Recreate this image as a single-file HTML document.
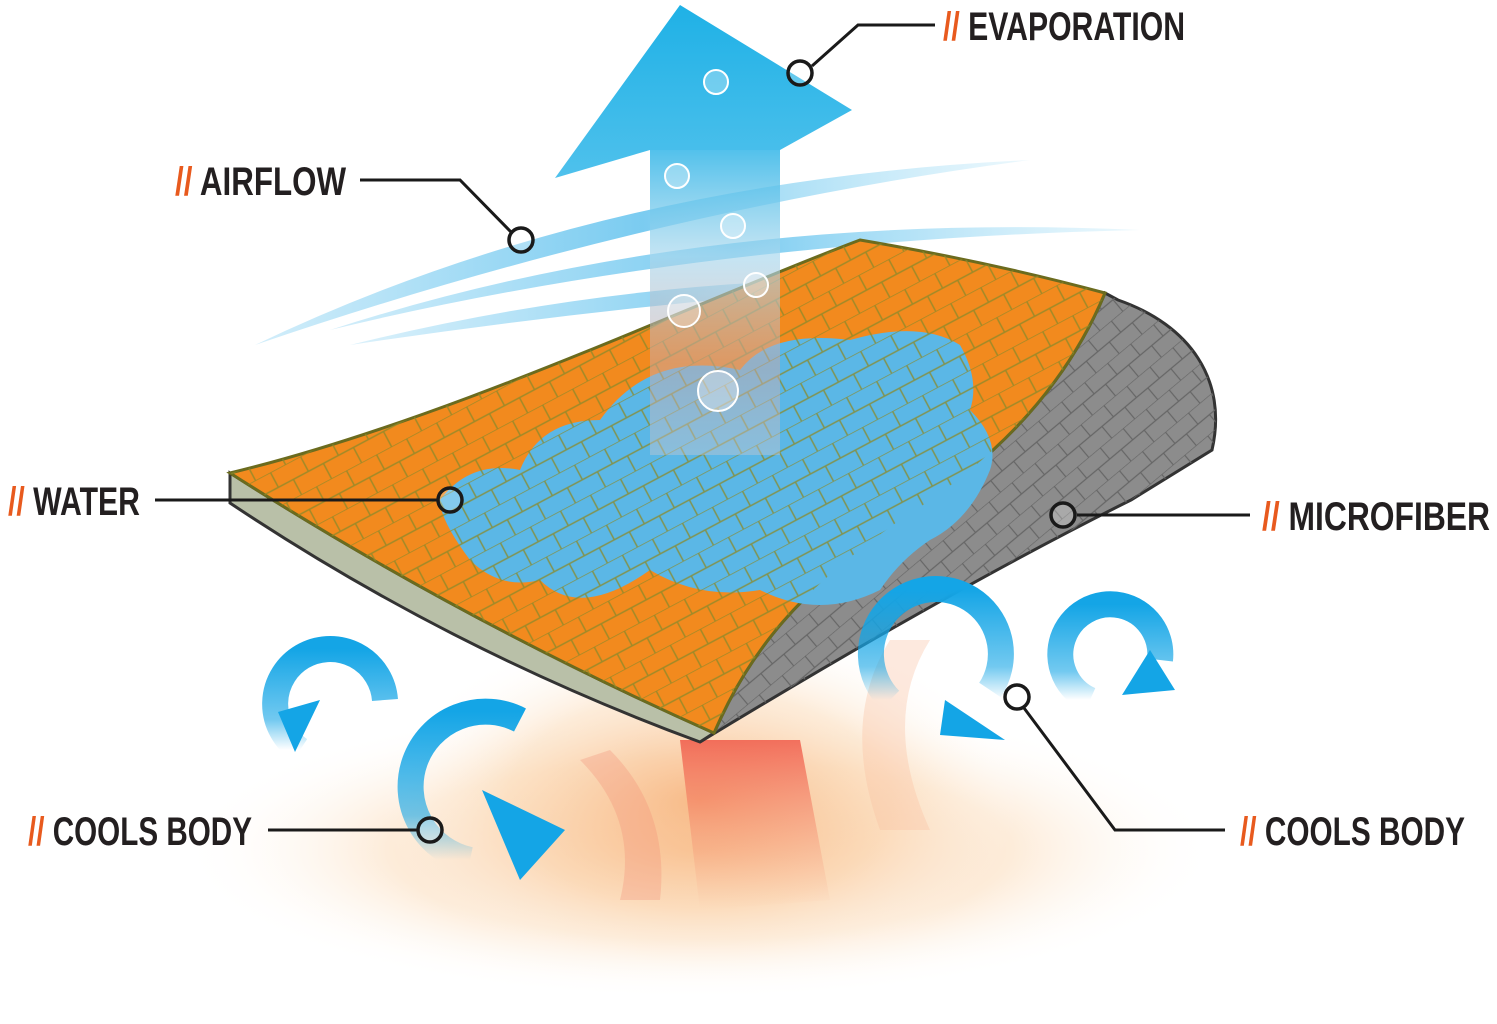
<!DOCTYPE html>
<html><head><meta charset="utf-8"><style>
html,body{margin:0;padding:0;background:#fff;}
svg{display:block}
.lbl{font-family:"Liberation Sans Narrow","Liberation Sans",sans-serif;font-weight:bold;font-size:40px;fill:#231f20}
.sl{fill:#e85a1e}
</style></head><body>
<svg width="1497" height="1024" viewBox="0 0 1497 1024" xmlns="http://www.w3.org/2000/svg">
<defs>
<radialGradient id="heat" cx="0.5" cy="0.5" r="0.5">
<stop offset="0" stop-color="#f7b27a" stop-opacity="0.8"/>
<stop offset="0.6" stop-color="#fbd9b4" stop-opacity="0.5"/>
<stop offset="1" stop-color="#fff" stop-opacity="0"/>
</radialGradient>
<linearGradient id="redcol" x1="0" y1="0" x2="0" y2="1">
<stop offset="0" stop-color="#ef4a3a" stop-opacity="0.75"/>
<stop offset="1" stop-color="#f6a080" stop-opacity="0"/>
</linearGradient>
<linearGradient id="shaft" x1="0" y1="0" x2="0" y2="1">
<stop offset="0" stop-color="#34b6e8"/>
<stop offset="0.35" stop-color="#a9d8ee" stop-opacity="0.8"/>
<stop offset="0.7" stop-color="#c9a8a8" stop-opacity="0.6"/>
<stop offset="1" stop-color="#c8c8d0" stop-opacity="0.5"/>
</linearGradient>
<linearGradient id="head" x1="0" y1="0" x2="0" y2="1">
<stop offset="0" stop-color="#1fb1e6"/>
<stop offset="1" stop-color="#4fc1ec"/>
</linearGradient>
<linearGradient id="wind" x1="0" y1="0" x2="1" y2="0">
<stop offset="0" stop-color="#6cc6ef" stop-opacity="0.3"/>
<stop offset="0.5" stop-color="#6cc6ef" stop-opacity="0.9"/>
<stop offset="1" stop-color="#9fdcf5" stop-opacity="0.2"/>
</linearGradient>
<pattern id="weave" width="34" height="34" patternUnits="userSpaceOnUse" patternTransform="rotate(-28)">
<path d="M0 0H34M0 17H34M17 0V17M0 17V34M34 17V34" stroke="#8a8a2a" stroke-width="1.5" fill="none"/>
</pattern>
<pattern id="weaveg" width="30" height="30" patternUnits="userSpaceOnUse" patternTransform="rotate(-40)">
<path d="M0 0H30M0 15H30M15 0V15M0 15V30M30 15V30" stroke="#666" stroke-width="1.2" fill="none"/>
</pattern>
<linearGradient id="circ" x1="0" y1="0" x2="0" y2="1">
<stop offset="0" stop-color="#14a5e6"/>
<stop offset="0.7" stop-color="#14a5e6" stop-opacity="0.6"/>
<stop offset="1" stop-color="#14a5e6" stop-opacity="0"/>
</linearGradient>
</defs>

<ellipse cx="700" cy="850" rx="520" ry="150" fill="url(#heat)"/>
<ellipse cx="700" cy="800" rx="320" ry="180" fill="url(#heat)"/>
<path d="M680 740 L800 740 L830 900 L700 910 Z" fill="url(#redcol)"/>
<path d="M580 760 Q640 820 620 900 L660 900 Q670 810 610 750Z" fill="#f28b74" opacity="0.3"/>
<path d="M890 640 Q840 720 880 830 L930 830 Q880 720 930 640Z" fill="#f8c0a0" opacity="0.35"/>

<path d="M255 345 Q600 180 1030 160 Q650 210 255 345Z" fill="url(#wind)"/>
<path d="M330 330 Q700 210 1140 230 Q700 240 330 330Z" fill="url(#wind)"/>
<path d="M350 345 Q650 270 960 280 Q650 300 350 345Z" fill="url(#wind)" opacity="0.8"/>

<!-- gray curl -->
<path id="g" d="M1105 293 L1118 300 C1190 325 1228 380 1212 450 L1131 500 Q950 590 700 742 L714 733 C750 650 800 590 900 520 C980 470 1060 400 1105 293Z" fill="#8c8c8c" stroke="#333" stroke-width="3"/>
<path d="M1105 293 L1118 300 C1190 325 1228 380 1212 450 L1131 500 Q950 590 700 742 L714 733 C750 650 800 590 900 520 C980 470 1060 400 1105 293Z" fill="url(#weaveg)"/>
<!-- thickness -->
<path d="M230 473 L230 503 Q450 650 700 742 L714 733 Q460 620 230 473Z" fill="#b9c0a8" stroke="#333" stroke-width="3"/>
<!-- top -->
<path d="M230 473 C450 420 700 300 860 240 Q990 262 1105 293 C1060 400 980 470 900 520 C800 590 750 650 714 733 Q460 620 230 473Z" fill="#f28a1e" stroke="#6b6b1e" stroke-width="3"/>
<path d="M440 500 Q470 460 520 470 Q540 420 600 420 Q650 350 740 370 Q770 330 850 340 Q920 320 960 345 Q980 380 970 410 Q1000 440 990 470 Q970 520 930 540 Q900 560 880 590 Q820 620 760 590 Q700 600 650 570 Q580 620 540 580 Q500 590 470 560 Q440 520 440 500Z" fill="#5bb7e6"/>
<path d="M230 473 C450 420 700 300 860 240 Q990 262 1105 293 C1060 400 980 470 900 520 C800 590 750 650 714 733 Q460 620 230 473Z" fill="url(#weave)" opacity="0.8"/>

<rect x="650" y="150" width="130" height="305" fill="url(#shaft)" opacity="0.85"/>
<path d="M555 178 L680 5 L852 110 L780 150 L650 150 Z" fill="url(#head)"/>
<g fill="#fff" fill-opacity="0.3" stroke="#fff" stroke-width="2">
<circle cx="716" cy="82" r="12"/><circle cx="677" cy="176" r="12"/><circle cx="733" cy="226" r="12"/>
<circle cx="756" cy="285" r="12"/><circle cx="684" cy="311" r="16"/><circle cx="718" cy="391" r="20"/>
</g>

<g fill="none" stroke="url(#circ)" stroke-width="26">
<path d="M300 750 A55 55 0 1 1 385 700"/>
<path d="M470 860 A75 75 0 1 1 520 720"/>
<path d="M990 690 A65 65 0 1 0 890 700"/>
<path d="M1160 660 A50 50 0 1 0 1090 700"/>
</g>
<g fill="#14a5e6">
<path d="M278 712 L320 700 L295 752Z"/>
<path d="M482 790 L565 830 L520 880 Z"/>
<path d="M945 700 L1005 740 L940 735Z"/>
<path d="M1122 695 L1175 690 L1150 650Z"/>
</g>

<g fill="none" stroke="#1a1a1a" stroke-width="3">
<path d="M935 25 H858 L812 66"/>
<path d="M360 180 H460 L512 233"/>
<path d="M155 500 H437"/>
<path d="M1250 515 H1077"/>
<path d="M268 830 H417"/>
<path d="M1225 830 H1115 L1024 708"/>
</g>
<g fill="#fff" fill-opacity="0.25" stroke="#1a1a1a" stroke-width="3.5">
<circle cx="800" cy="73" r="12"/><circle cx="521" cy="240" r="12"/><circle cx="450" cy="500" r="12"/>
<circle cx="1063" cy="515" r="12"/><circle cx="430" cy="830" r="12"/><circle cx="1017" cy="697" r="12"/>
</g>

<text class="lbl" x="943" y="40" textLength="242" lengthAdjust="spacingAndGlyphs"><tspan class="sl">//</tspan> EVAPORATION</text>
<text class="lbl" x="175" y="195" textLength="171" lengthAdjust="spacingAndGlyphs"><tspan class="sl">//</tspan> AIRFLOW</text>
<text class="lbl" x="8" y="515" textLength="132" lengthAdjust="spacingAndGlyphs"><tspan class="sl">//</tspan> WATER</text>
<text class="lbl" x="1262" y="530" textLength="228" lengthAdjust="spacingAndGlyphs"><tspan class="sl">//</tspan> MICROFIBER</text>
<text class="lbl" x="28" y="845" textLength="224" lengthAdjust="spacingAndGlyphs"><tspan class="sl">//</tspan> COOLS BODY</text>
<text class="lbl" x="1240" y="845" textLength="225" lengthAdjust="spacingAndGlyphs"><tspan class="sl">//</tspan> COOLS BODY</text>
</svg>
</body></html>
